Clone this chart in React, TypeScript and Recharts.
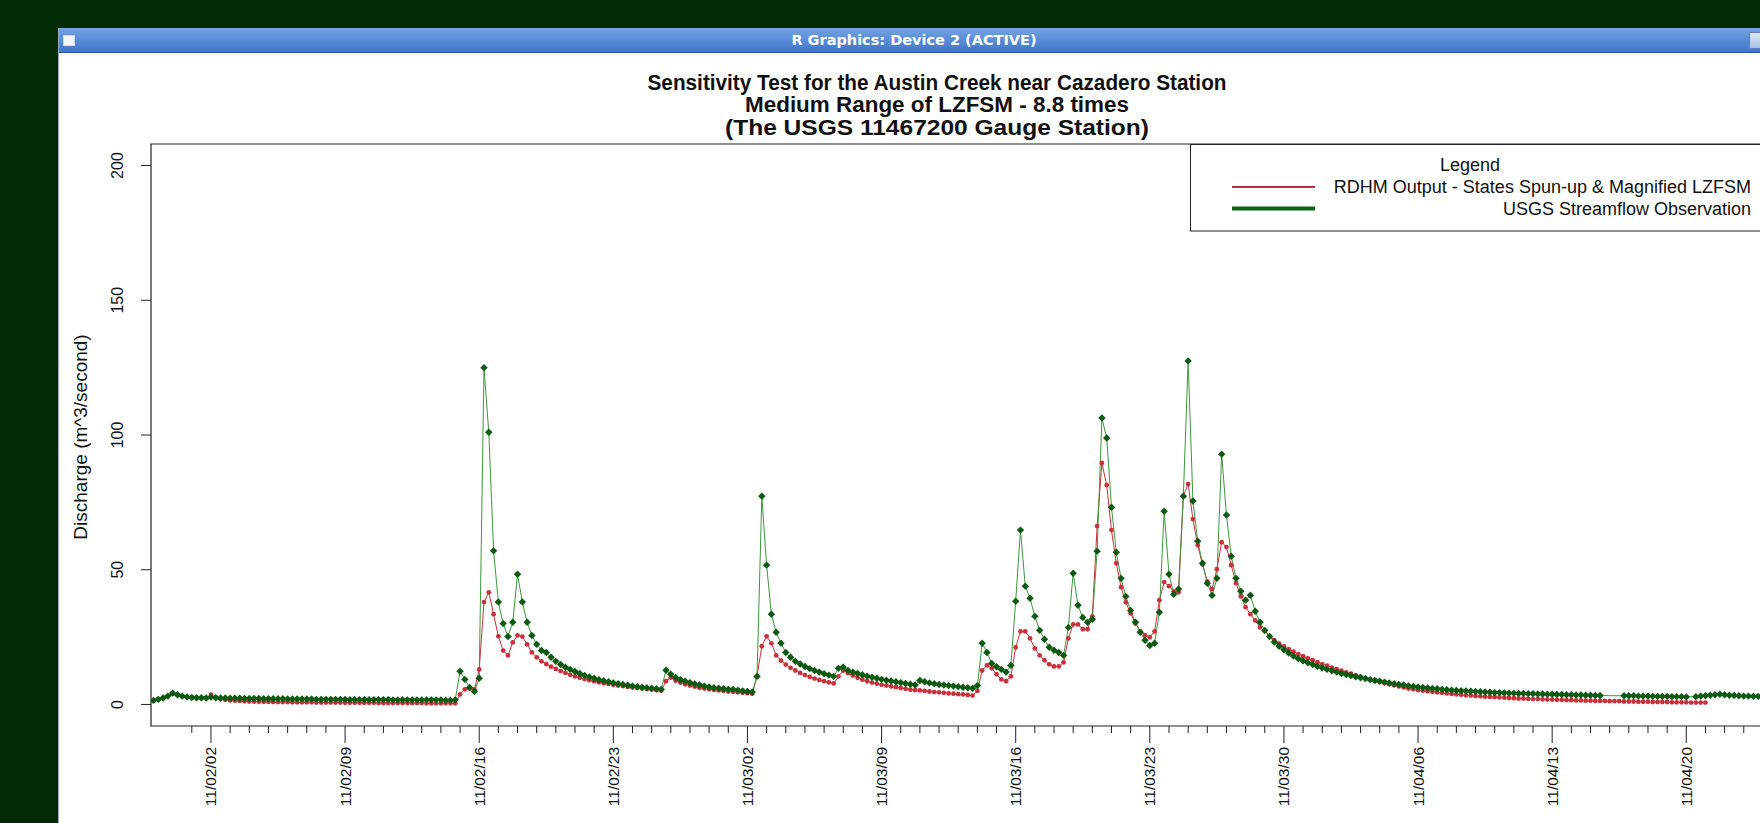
import React from "react";
import { LineChart, Line, XAxis, YAxis, ReferenceArea, Legend } from "recharts";

// 6-hourly values. Day numbers count from 2011-01-01 (= 0), so the first row is 2011-01-30 00:00
const startDay = 29;
const stepDays = 0.25;

// USGS 11467200 observed discharge (m^3/s), null = missing record
const usgsObs: (number | null)[] = [
  1.5, 1.9, 2.4, 3.1, // 01/30
  4.2, 3.6, 3.1, 2.8,
  2.6, 2.5, 2.5, 2.4, // 02/01
  2.7, 2.5, 2.4, 2.4,
  2.3, 2.3, 2.3, 2.2,
  2.2, 2.2, 2.2, 2.1,
  2.1, 2.1, 2.1, 2.1, // 02/05
  2.0, 2.0, 2.0, 2.0,
  2.0, 2.0, 1.9, 1.9,
  1.9, 1.9, 1.9, 1.9,
  1.9, 1.8, 1.8, 1.8,
  1.8, 1.8, 1.8, 1.8, // 02/10
  1.8, 1.8, 1.7, 1.7,
  1.7, 1.7, 1.7, 1.7,
  1.7, 1.7, 1.7, 1.7,
  1.7, 1.6, 1.6, 1.7,
  12.3, 9.3, 6.3, 4.8, // 02/15
  9.7, 125.0, 101.0, 57.0,
  38.0, 30.0, 25.2, 30.5,
  48.3, 38.0, 30.5, 25.6,
  22.3, 20.0, 19.3, 17.5,
  16.0, 14.8, 13.8, 13.0, // 02/20
  12.2, 11.5, 10.8, 10.2,
  9.7, 9.2, 8.8, 8.4,
  8.0, 7.7, 7.4, 7.1,
  6.8, 6.6, 6.4, 6.2,
  6.0, 5.8, 5.6, 12.7, // 02/25
  11.2, 10.0, 9.2, 8.6,
  8.1, 7.6, 7.2, 6.8,
  6.5, 6.2, 6.0, 5.8,
  5.6, 5.6, 5.3, 5.0,
  4.8, 4.6, 10.4, 77.3, // 03/02
  51.7, 33.5, 26.8, 22.7,
  19.3, 17.5, 16.0, 15.0,
  14.1, 13.3, 12.6, 12.0,
  11.4, 10.9, 10.4, 13.4,
  13.8, 12.6, 12.0, 11.5, // 03/07
  11.0, 10.5, 10.1, 9.7,
  9.3, 9.0, 8.7, 8.4,
  8.1, 7.8, 7.5, 7.2,
  8.9, 8.4, 8.0, 7.7,
  7.4, 7.2, 7.0, 6.8, // 03/12
  6.6, 6.4, 6.2, 6.0,
  7.0, 22.7, 19.3, 15.2,
  14.0, 13.0, 12.0, 14.5,
  38.3, 64.7, 43.9, 39.4,
  32.7, 27.5, 24.2, 21.2, // 03/17
  20.1, 19.3, 18.2, 28.6,
  48.7, 36.8, 32.3, 30.5,
  31.6, 56.9, 106.3, 98.9,
  73.2, 56.5, 46.8, 40.1,
  34.9, 30.5, 26.8, 23.8, // 03/22
  21.9, 22.7, 34.2, 71.7,
  48.3, 40.9, 42.8, 77.3,
  127.5, 75.5, 60.6, 52.4,
  45.0, 40.5, 46.8, 92.9,
  70.3, 55.0, 46.8, 42.0, // 03/27
  38.7, 40.5, 34.6, 30.5,
  27.5, 25.2, 23.2, 21.6,
  20.3, 19.1, 18.0, 17.0,
  16.2, 15.5, 14.8, 14.2,
  13.6, 13.0, 12.5, 12.0, // 04/01
  11.5, 11.1, 10.7, 10.3,
  9.9, 9.6, 9.2, 8.9,
  8.6, 8.3, 8.0, 7.7,
  7.4, 7.2, 6.9, 6.7,
  6.5, 6.3, 6.1, 5.9, // 04/06
  5.8, 5.6, 5.5, 5.3,
  5.2, 5.1, 5.0, 4.9,
  4.8, 4.7, 4.6, 4.5,
  4.4, 4.4, 4.3, 4.2,
  4.2, 4.1, 4.1, 4.0, // 04/11
  4.0, 3.9, 3.9, 3.8,
  3.8, 3.7, 3.7, 3.6,
  3.6, 3.5, 3.5, 3.4,
  3.4, 3.3, 3.3, null,
  null, null, null, 3.2, // 04/16
  3.2, 3.2, 3.1, 3.1,
  3.1, 3.0, 3.0, 3.0,
  3.0, 2.9, 2.9, 2.9,
  2.8, null, 2.9, 3.1,
  3.2, 3.4, 3.6, 3.8, // 04/21
  3.6, 3.4, 3.3, 3.2,
  3.1, 3.1, 3.0, 3.0,
  3.0, 3.0, 2.9, 2.9,
];

// RDHM simulation, states spun-up and LZFSM x 8.8
const rdhmOut: (number | null)[] = [
  1.4, 1.8, 2.3, 3.0, // 01/30
  4.0, 3.5, 3.0, 2.7,
  2.5, 2.4, 2.3, 2.3, // 02/01
  3.6, 2.6, 2.0, 1.7,
  1.5, 1.4, 1.3, 1.2,
  1.1, 1.1, 1.0, 1.0,
  1.0, 0.9, 0.9, 0.9, // 02/05
  0.9, 0.8, 0.8, 0.8,
  0.8, 0.8, 0.7, 0.7,
  0.7, 0.7, 0.7, 0.7,
  0.6, 0.6, 0.6, 0.6,
  0.6, 0.6, 0.6, 0.5, // 02/10
  0.5, 0.5, 0.5, 0.5,
  0.5, 0.5, 0.5, 0.5,
  0.5, 0.4, 0.4, 0.4,
  0.4, 0.4, 0.4, 0.4,
  3.7, 5.6, 5.9, 5.6, // 02/15
  13.0, 38.0, 41.6, 33.5,
  25.3, 20.0, 18.2, 23.0,
  25.6, 25.2, 22.3, 19.3,
  17.5, 16.0, 15.0, 14.0,
  13.2, 12.4, 11.7, 11.0, // 02/20
  10.4, 9.9, 9.4, 9.0,
  8.6, 8.2, 7.9, 7.6,
  7.3, 7.0, 6.8, 6.5,
  6.3, 6.1, 5.9, 5.7,
  5.5, 5.3, 5.1, 8.6, // 02/25
  10.0, 8.8, 8.1, 7.5,
  7.0, 6.6, 6.2, 5.9,
  5.6, 5.4, 5.2, 5.0,
  4.8, 4.7, 4.5, 4.3,
  4.2, 4.0, 10.4, 21.6, // 03/02
  25.3, 22.7, 18.2, 16.3,
  14.8, 13.6, 12.6, 11.7,
  10.9, 10.2, 9.6, 9.1,
  8.6, 8.2, 7.8, 10.4,
  12.6, 11.6, 10.7, 9.9, // 03/07
  9.2, 8.6, 8.1, 7.7,
  7.3, 7.0, 6.7, 6.4,
  6.1, 5.8, 5.5, 5.3,
  5.2, 5.0, 4.8, 4.6,
  4.5, 4.3, 4.1, 4.0, // 03/12
  3.8, 3.7, 3.5, 3.3,
  5.0, 12.6, 14.5, 13.4,
  11.2, 9.3, 8.6, 10.4,
  21.2, 27.1, 27.1, 24.5,
  20.8, 18.2, 16.4, 14.9, // 03/17
  14.1, 14.1, 15.6, 24.5,
  29.7, 29.7, 27.9, 27.9,
  32.7, 66.2, 89.6, 81.4,
  64.7, 52.4, 43.5, 37.9,
  33.8, 30.1, 27.1, 25.7, // 03/22
  24.9, 27.1, 38.7, 45.4,
  43.9, 42.0, 41.6, 77.3,
  81.8, 68.8, 59.1, 52.0,
  45.7, 42.8, 50.2, 60.2,
  58.4, 51.7, 45.0, 40.1, // 03/27
  36.1, 33.5, 31.2, 28.6,
  27.2, 25.4, 23.9, 22.6,
  21.5, 20.5, 19.6, 18.7,
  17.9, 17.1, 16.4, 15.7,
  15.0, 14.4, 13.7, 13.1, // 04/01
  12.5, 11.9, 11.4, 10.8,
  10.3, 9.8, 9.3, 8.8,
  8.3, 7.9, 7.5, 7.1,
  6.7, 6.3, 5.9, 5.6,
  5.3, 5.1, 4.9, 4.7, // 04/06
  4.5, 4.3, 4.1, 3.9,
  3.7, 3.6, 3.4, 3.3,
  3.1, 3.0, 2.9, 2.8,
  2.7, 2.6, 2.5, 2.4,
  2.3, 2.2, 2.2, 2.1, // 04/11
  2.0, 2.0, 1.9, 1.8,
  1.8, 1.7, 1.7, 1.6,
  1.6, 1.5, 1.5, 1.4,
  1.4, 1.3, 1.3, 1.3,
  1.2, 1.2, 1.2, 1.1, // 04/16
  1.1, 1.1, 1.0, 1.0,
  1.0, 0.9, 0.9, 0.9,
  0.9, 0.8, 0.8, 0.8,
  0.8, 0.7, 0.7, 0.7,
  0.7, // 04/21
];

const weekTicks = [32, 39, 46, 53, 60, 67, 74, 81, 88, 95, 102, 109];
const weekLabels = [
  "11/02/02", "11/02/09", "11/02/16", "11/02/23", "11/03/02", "11/03/09",
  "11/03/16", "11/03/23", "11/03/30", "11/04/06", "11/04/13", "11/04/20",
];
// one small tick per day from 02/01
const dayTicks = Array.from({ length: 83 }, (_, i) => 31 + i);
const dischargeTicks = [0, 50, 100, 150, 200];

const titleLines = [
  "Sensitivity Test for the Austin Creek near Cazadero Station",
  "Medium Range of LZFSM - 8.8 times",
  "(The USGS 11467200 Gauge Station)",
];

const xDomain: [number, number] = [28.87, 113.63];
const yDomain: [number, number] = [-8, 208];

const rows = usgsObs.map((v, i) => ({
  t: startDay + i * stepDays,
  usgs: v,
  rdhm: i < rdhmOut.length ? rdhmOut[i] : null,
}));

const font = '"Liberation Sans", Arial, Helvetica, sans-serif';
const red = "#c8323c";
const greenDot = "#0c5a12";
const greenLine = "#3c963c";

function DateTick(props: any) {
  const { x, y, payload } = props;
  const k = weekTicks.indexOf(payload.value);
  const major = k >= 0;
  return (
    <g>
      <line x1={x} x2={x} y1={y} y2={y + (major ? 17 : 7)} stroke="#222" strokeWidth={1} />
      {major && (
        <text
          transform={`translate(${x},${y + 21}) rotate(-90)`}
          textAnchor="end"
          dominantBaseline="central"
          fontFamily={font}
          fontSize={15.5}
          fill="#111"
        >
          {weekLabels[k]}
        </text>
      )}
    </g>
  );
}

function QTick(props: any) {
  const { y, payload } = props;
  return (
    <g>
      <line x1={141} x2={151} y1={y} y2={y} stroke="#222" strokeWidth={1} />
      <text
        transform={`translate(117,${y}) rotate(-90)`}
        textAnchor="middle"
        dominantBaseline="central"
        fontFamily={font}
        fontSize={16}
        fill="#111"
      >
        {payload.value}
      </text>
    </g>
  );
}

function RedDot(props: any) {
  const { cx, cy, value } = props;
  if (cx == null || cy == null || value == null) return null;
  return <circle cx={cx} cy={cy} r={2.4} fill={red} />;
}

function GreenDot(props: any) {
  const { cx, cy, value } = props;
  if (cx == null || cy == null || value == null) return null;
  const s = 3.7;
  return (
    <path
      d={`M${cx},${cy - s}L${cx + s},${cy}L${cx},${cy + s}L${cx - s},${cy}Z`}
      fill={greenDot}
    />
  );
}

// legend drawn in pixels relative to its box (box left = 1190, top = 144)
function LegendBox(props: any) {
  const items = props.payload ?? [];
  const rowY = [43, 64.5];
  return (
    <svg width={600} height={88} style={{ display: "block" }} fontFamily={font} fontSize={18}>
      <rect x={0.5} y={0.5} width={640} height={86.5} fill="#fff" stroke="#222" />
      <text x={280} y={21} textAnchor="middle" dominantBaseline="central" fill="#111">
        Legend
      </text>
      {items.map((it: any, i: number) => (
        <g key={i}>
          <line
            x1={42}
            x2={125}
            y1={rowY[i]}
            y2={rowY[i]}
            stroke={i === 0 ? "#b8303e" : "#0a6414"}
            strokeWidth={i === 0 ? 2 : 4}
          />
          <text x={561} y={rowY[i]} textAnchor="end" dominantBaseline="central" fill="#111">
            {it.value}
          </text>
        </g>
      ))}
    </svg>
  );
}

export default function App() {
  return (
    <div
      style={{
        position: "fixed",
        left: 0,
        top: 0,
        width: 1760,
        height: 823,
        overflow: "hidden",
        background: "#022a05",
      }}
    >
      {/* R graphics device window */}
      <div
        style={{
          position: "absolute",
          left: 58,
          top: 28,
          width: 1740,
          height: 820,
          background: "#fff",
          borderLeft: "1px solid #9aa9bd",
        }}
      >
        <div
          style={{
            height: 24,
            background: "linear-gradient(#74a4e4, #3f75c8)",
            borderBottom: "1px solid #2d5aa0",
            color: "#fff",
            fontFamily: '"DejaVu Sans", sans-serif',
            fontWeight: "bold",
            fontSize: 14.5,
            lineHeight: "24px",
            textAlign: "center",
            paddingRight: 30,
          }}
        >
          R Graphics: Device 2 (ACTIVE)
        </div>
        <div
          style={{
            position: "absolute",
            left: 4,
            top: 7,
            width: 10,
            height: 9,
            background: "#f4f6fa",
            border: "1px solid #cfd8e6",
          }}
        />
        <div
          style={{
            position: "absolute",
            left: 1690,
            top: 4,
            width: 14,
            height: 15,
            background: "linear-gradient(#dfe8f6, #a9bfe2)",
            border: "1px solid #5c80bd",
          }}
        />
      </div>

      <svg
        width={1760}
        height={823}
        style={{ position: "absolute", left: 0, top: 0 }}
        fontFamily={font}
      >
        <g fontWeight="bold" fontSize={22} fill="#111" textAnchor="middle">
          <text x={937} y={90} textLength={579} lengthAdjust="spacingAndGlyphs">{titleLines[0]}</text>
          <text x={937} y={112} textLength={384} lengthAdjust="spacingAndGlyphs">{titleLines[1]}</text>
          <text x={937} y={135} textLength={424} lengthAdjust="spacingAndGlyphs">{titleLines[2]}</text>
        </g>
        <text
          transform="translate(80,437) rotate(-90)"
          textAnchor="middle"
          dominantBaseline="central"
          fontSize={19}
          fill="#111"
        >
          Discharge (m^3/second)
        </text>
      </svg>

      <div style={{ position: "absolute", left: 0, top: 0 }}>
        <LineChart
          width={1800}
          height={823}
          data={rows}
          margin={{ top: 144, right: 25, bottom: 7, left: 91 }}
        >
          <XAxis
            dataKey="t"
            type="number"
            domain={xDomain}
            allowDataOverflow
            ticks={dayTicks}
            interval={0}
            tick={<DateTick />}
            tickLine={false}
            tickSize={0}
            tickMargin={0}
            axisLine={false}
            height={90}
          />
          <YAxis
            type="number"
            domain={yDomain}
            allowDataOverflow
            ticks={dischargeTicks}
            interval={0}
            tick={<QTick />}
            tickLine={false}
            tickSize={0}
            tickMargin={0}
            axisLine={false}
            width={60}
          />
          <ReferenceArea
            x1={xDomain[0]}
            x2={xDomain[1]}
            y1={yDomain[0]}
            y2={yDomain[1]}
            fill="none"
            fillOpacity={0}
            stroke="#222"
            strokeWidth={1.2}
            ifOverflow="visible"
          />
          <Legend
            layout="vertical"
            align="center"
            verticalAlign="middle"
            content={<LegendBox />}
            wrapperStyle={{ left: 1190, top: 144, width: 600, height: 88 }}
          />
          <Line
            dataKey="rdhm"
            name="RDHM Output - States Spun-up & Magnified LZFSM"
            stroke={red}
            strokeWidth={1}
            dot={<RedDot />}
            activeDot={false}
            connectNulls={false}
            isAnimationActive={false}
          />
          <Line
            dataKey="usgs"
            name="USGS Streamflow Observation"
            stroke={greenLine}
            strokeWidth={1}
            dot={<GreenDot />}
            activeDot={false}
            connectNulls
            isAnimationActive={false}
          />
        </LineChart>
      </div>
    </div>
  );
}
